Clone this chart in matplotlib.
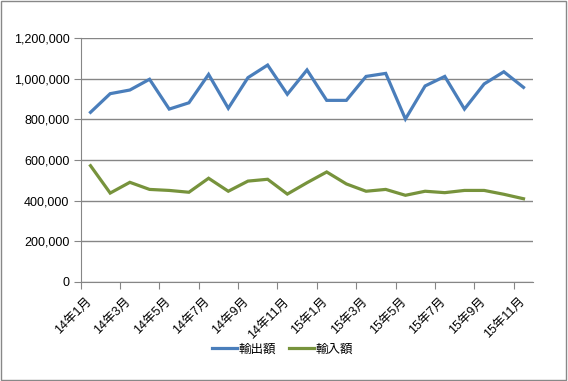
import matplotlib
matplotlib.use('Agg')
import matplotlib.pyplot as plt
import matplotlib.transforms as mtransforms
from matplotlib.patches import Rectangle
from matplotlib.ticker import FuncFormatter

# データ(14年1月〜15年11月)
months = ['14年1月', '14年2月', '14年3月', '14年4月', '14年5月', '14年6月',
          '14年7月', '14年8月', '14年9月', '14年10月', '14年11月', '14年12月',
          '15年1月', '15年2月', '15年3月', '15年4月', '15年5月', '15年6月',
          '15年7月', '15年8月', '15年9月', '15年10月', '15年11月']
exports = [835000, 927000, 945000, 998000, 851000, 882000, 1022000, 855000,
           1006000, 1068000, 924000, 1044000, 894000, 894000, 1012000, 1027000,
           802000, 965000, 1012000, 851000, 975000, 1035000, 958000]
imports = [572000, 437000, 490000, 455000, 450000, 441000, 510000, 446000,
           496000, 505000, 432000, 488000, 541000, 482000, 446000, 455000,
           426000, 446000, 439000, 450000, 450000, 431000, 409000]

plt.rcParams['font.family'] = ['Liberation Sans', 'Noto Sans CJK JP']

fig = plt.figure(figsize=(5.68, 3.81), dpi=100)
ax = fig.add_axes([0.142, 0.2606, 0.797, 0.6389])

x = list(range(len(months)))
ax.plot(x, exports, color='#4A7EBB', linewidth=2.3, label='輸出額',
        solid_joinstyle='miter')
ax.plot(x, imports, color='#77933C', linewidth=2.3, label='輸入額',
        solid_joinstyle='miter')

ax.set_xlim(-0.5, len(months) - 0.5)
ax.set_ylim(0, 1200000)
ax.set_yticks(range(0, 1200001, 200000))
ax.yaxis.set_major_formatter(FuncFormatter(lambda v, p: f'{int(v):,}'))
ax.grid(axis='y', color='#868686', linewidth=1)
ax.set_axisbelow(True)

# 目盛り線は区切り位置、ラベルは項目の中央
ax.set_xticks([i - 0.5 for i in x[::2]])
ax.set_xticklabels([])
ax.set_xticks(x[::2], minor=True)
ax.set_xticklabels(months[::2], minor=True, rotation=45, ha='right',
                   rotation_mode='anchor', fontsize=9)
ax.tick_params(axis='x', which='major', length=5, color='#868686')
ax.tick_params(axis='x', which='minor', length=0, pad=10)
ax.tick_params(axis='y', length=5, color='#868686', labelsize=9, pad=3)

shift = mtransforms.ScaledTranslation(-0.05, 0, fig.dpi_scale_trans)
for lbl in ax.get_xticklabels(minor=True):
    lbl.set_transform(lbl.get_transform() + shift)

for s in ['top', 'right']:
    ax.spines[s].set_visible(False)
for s in ['left', 'bottom']:
    ax.spines[s].set_color('#868686')

fig.legend(loc='center', bbox_to_anchor=(0.497, 0.083), ncol=2, frameon=False,
           fontsize=9, handlelength=2.0, columnspacing=1.0, handletextpad=0.15)

fig.patches.append(Rectangle((0.001, 0.003), 0.995, 0.994, transform=fig.transFigure,
                             fill=False, edgecolor='#888888', linewidth=1))

fig.savefig('out.png', dpi=100)
